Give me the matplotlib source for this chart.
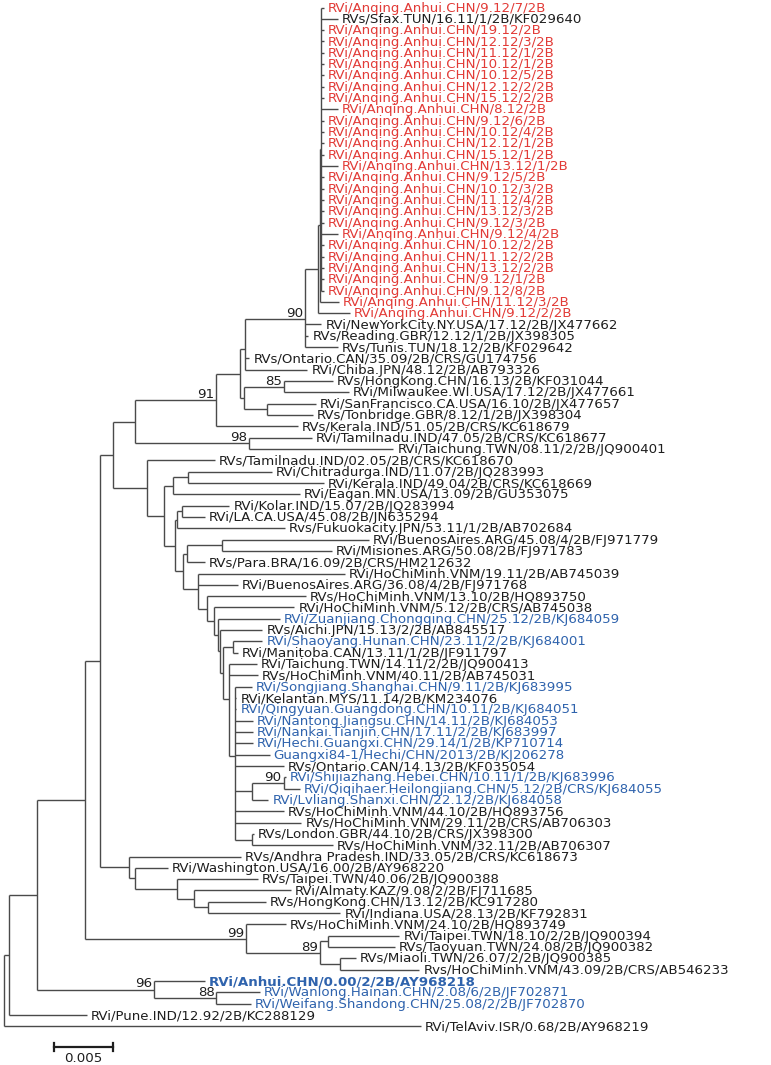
import matplotlib
matplotlib.use("Agg")
import matplotlib.pyplot as plt
from collections import defaultdict

# ---- data: leaves in drawing order (name, parent node, branch length, colour group)
leaves = [
    ("RVi/Anqing.Anhui.CHN/9.12/7/2B", "q2", 0.0002, "r"),
    ("RVs/Sfax.TUN/16.11/1/2B/KF029640", "q2", 0.0014, "k"),
    ("RVi/Anqing.Anhui.CHN/19.12/2B", "q2", 0.0002, "r"),
    ("RVi/Anqing.Anhui.CHN/12.12/3/2B", "q2", 0.0002, "r"),
    ("RVi/Anqing.Anhui.CHN/11.12/1/2B", "q2", 0.0002, "r"),
    ("RVi/Anqing.Anhui.CHN/10.12/1/2B", "q2", 0.0002, "r"),
    ("RVi/Anqing.Anhui.CHN/10.12/5/2B", "q2", 0.0002, "r"),
    ("RVi/Anqing.Anhui.CHN/12.12/2/2B", "q2", 0.0002, "r"),
    ("RVi/Anqing.Anhui.CHN/15.12/2/2B", "q2", 0.0002, "r"),
    ("RVi/Anqing.Anhui.CHN/8.12/2B", "q2", 0.0014, "r"),
    ("RVi/Anqing.Anhui.CHN/9.12/6/2B", "q2", 0.0002, "r"),
    ("RVi/Anqing.Anhui.CHN/10.12/4/2B", "q2", 0.0002, "r"),
    ("RVi/Anqing.Anhui.CHN/12.12/1/2B", "q2", 0.0002, "r"),
    ("RVi/Anqing.Anhui.CHN/15.12/1/2B", "q2", 0.0002, "r"),
    ("RVi/Anqing.Anhui.CHN/13.12/1/2B", "q2", 0.0014, "r"),
    ("RVi/Anqing.Anhui.CHN/9.12/5/2B", "q2", 0.0002, "r"),
    ("RVi/Anqing.Anhui.CHN/10.12/3/2B", "q2", 0.0002, "r"),
    ("RVi/Anqing.Anhui.CHN/11.12/4/2B", "q2", 0.0002, "r"),
    ("RVi/Anqing.Anhui.CHN/13.12/3/2B", "q2", 0.0002, "r"),
    ("RVi/Anqing.Anhui.CHN/9.12/3/2B", "q2", 0.0002, "r"),
    ("RVi/Anqing.Anhui.CHN/9.12/4/2B", "q2", 0.0014, "r"),
    ("RVi/Anqing.Anhui.CHN/10.12/2/2B", "q2", 0.0002, "r"),
    ("RVi/Anqing.Anhui.CHN/11.12/2/2B", "q2", 0.0002, "r"),
    ("RVi/Anqing.Anhui.CHN/13.12/2/2B", "q2", 0.0002, "r"),
    ("RVi/Anqing.Anhui.CHN/9.12/1/2B", "q2", 0.0002, "r"),
    ("RVi/Anqing.Anhui.CHN/9.12/8/2B", "q2", 0.0002, "r"),
    ("RVi/Anqing.Anhui.CHN/11.12/3/2B", "q1", 0.0016, "r"),
    ("RVi/Anqing.Anhui.CHN/9.12/2/2B", "q0", 0.0027, "r"),
    ("RVi/NewYorkCity.NY.USA/17.12/2B/JX477662", "n90", 0.0014, "k"),
    ("RVs/Reading.GBR/12.12/1/2B/JX398305", "n90", 0.0003, "k"),
    ("RVs/Tunis.TUN/18.12/2B/KF029642", "n90", 0.0028, "k"),
    ("RVs/Ontario.CAN/35.09/2B/CRS/GU174756", "y", 0.0004, "k"),
    ("RVi/Chiba.JPN/48.12/2B/AB793326", "y", 0.0053, "k"),
    ("RVs/HongKong.CHN/16.13/2B/KF031044", "n85", 0.0042, "k"),
    ("RVi/Milwaukee.WI.USA/17.12/2B/JX477661", "n85", 0.0055, "k"),
    ("RVi/SanFrancisco.CA.USA/16.10/2B/JX477657", "sft", 0.0041, "k"),
    ("RVs/Tonbridge.GBR/8.12/1/2B/JX398304", "sft", 0.0039, "k"),
    ("RVs/Kerala.IND/51.05/2B/CRS/KC618679", "n91", 0.0069, "k"),
    ("RVi/Tamilnadu.IND/47.05/2B/CRS/KC618677", "n98", 0.0053, "k"),
    ("RVi/Taichung.TWN/08.11/2/2B/JQ900401", "n98", 0.0122, "k"),
    ("RVs/Tamilnadu.IND/02.05/2B/CRS/KC618670", "f", 0.0058, "k"),
    ("RVi/Chitradurga.IND/11.07/2B/JQ283993", "i", 0.0071, "k"),
    ("RVi/Kerala.IND/49.04/2B/CRS/KC618669", "i", 0.0115, "k"),
    ("RVi/Eagan.MN.USA/13.09/2B/GU353075", "h", 0.0108, "k"),
    ("RVi/Kolar.IND/15.07/2B/JQ283994", "kl", 0.0040, "k"),
    ("RVi/LA.CA.USA/45.08/2B/JN635294", "kl", 0.0019, "k"),
    ("Rvs/Fukuokacity.JPN/53.11/1/2B/AB702684", "l", 0.0091, "k"),
    ("RVi/BuenosAires.ARG/45.08/4/2B/FJ971779", "bm", 0.0124, "k"),
    ("RVi/Misiones.ARG/50.08/2B/FJ971783", "bm", 0.0093, "k"),
    ("RVs/Para.BRA/16.09/2B/CRS/HM212632", "n", 0.0015, "k"),
    ("RVi/HoChiMinh.VNM/19.11/2B/AB745039", "o", 0.0125, "k"),
    ("RVi/BuenosAires.ARG/36.08/4/2B/FJ971768", "o", 0.0034, "k"),
    ("RVs/HoChiMinh.VNM/13.10/2B/HQ893750", "r", 0.0084, "k"),
    ("RVi/HoChiMinh.VNM/5.12/2B/CRS/AB745038", "s", 0.0068, "k"),
    ("RVi/Zuanjiang.Chongqing.CHN/25.12/2B/KJ684059", "t", 0.0053, "b"),
    ("RVs/Aichi.JPN/15.13/2/2B/AB845517", "u", 0.0036, "k"),
    ("RVi/Shaoyang.Hunan.CHN/23.11/2/2B/KJ684001", "sm", 0.0025, "b"),
    ("RVi/Manitoba.CAN/13.11/1/2B/JF911797", "sm", 0.0004, "k"),
    ("RVi/Taichung.TWN/14.11/2/2B/JQ900413", "w", 0.0023, "k"),
    ("RVs/HoChiMinh.VNM/40.11/2B/AB745031", "w", 0.0024, "k"),
    ("RVi/Songjiang.Shanghai.CHN/9.11/2B/KJ683995", "p", 0.0014, "b"),
    ("RVi/Kelantan.MYS/11.14/2B/KM234076", "p", 0.0001, "k"),
    ("RVi/Qingyuan.Guangdong.CHN/10.11/2B/KJ684051", "p", 0.0001, "b"),
    ("RVi/Nantong.Jiangsu.CHN/14.11/2B/KJ684053", "p", 0.0015, "b"),
    ("RVi/Nankai.Tianjin.CHN/17.11/2/2B/KJ683997", "p", 0.0015, "b"),
    ("RVi/Hechi.Guangxi.CHN/29.14/1/2B/KP710714", "p", 0.0015, "b"),
    ("Guangxi84-1/Hechi/CHN/2013/2B/KJ206278", "p", 0.0029, "b"),
    ("RVs/Ontario.CAN/14.13/2B/KF035054", "p", 0.0041, "k"),
    ("RVi/Shijiazhang.Hebei.CHN/10.11/1/2B/KJ683996", "n90b", 0.0002, "b"),
    ("RVi/Qiqihaer.Heilongjiang.CHN/5.12/2B/CRS/KJ684055", "n90b", 0.0014, "b"),
    ("RVi/Lvliang.Shanxi.CHN/22.12/2B/KJ684058", "sql", 0.0014, "b"),
    ("RVs/HoChiMinh.VNM/44.10/2B/HQ893756", "p", 0.0041, "k"),
    ("RVs/HoChiMinh.VNM/29.11/2B/CRS/AB706303", "p", 0.0056, "k"),
    ("RVs/London.GBR/44.10/2B/CRS/JX398300", "lh", 0.0002, "k"),
    ("RVs/HoChiMinh.VNM/32.11/2B/AB706307", "lh", 0.0069, "k"),
    ("RVs/Andhra Pradesh.IND/33.05/2B/CRS/KC618673", "aw", 0.0095, "k"),
    ("RVi/Washington.USA/16.00/2B/AY968220", "wt", 0.0028, "k"),
    ("RVs/Taipei.TWN/40.06/2B/JQ900388", "tx", 0.0068, "k"),
    ("RVi/Almaty.KAZ/9.08/2/2B/FJ711685", "ahi", 0.0082, "k"),
    ("RVs/HongKong.CHN/13.12/2B/KC917280", "hi", 0.0049, "k"),
    ("RVi/Indiana.USA/28.13/2B/KF792831", "hi", 0.0112, "k"),
    ("RVs/HoChiMinh.VNM/24.10/2B/HQ893749", "n99", 0.0034, "k"),
    ("RVi/Taipei.TWN/18.10/2/2B/JQ900394", "tt", 0.0060, "k"),
    ("RVs/Taoyuan.TWN/24.08/2B/JQ900382", "tt", 0.0056, "k"),
    ("RVs/Miaoli.TWN/26.07/2/2B/JQ900385", "mh", 0.0013, "k"),
    ("Rvs/HoChiMinh.VNM/43.09/2B/CRS/AB546233", "mh", 0.0067, "k"),
    ("RVi/Anhui.CHN/0.00/2/2B/AY968218", "n96", 0.0043, "B"),
    ("RVi/Wanlong.Hainan.CHN/2.08/6/2B/JF702871", "n88", 0.0037, "b"),
    ("RVi/Weifang.Shandong.CHN/25.08/2/2B/JF702870", "n88", 0.0029, "b"),
    ("RVi/Pune.IND/12.92/2B/KC288129", "a", 0.0066, "k"),
    ("RVi/TelAviv.ISR/0.68/2B/AY968219", "root", 0.0353, "k"),
]

# ---- data: internal nodes (id, parent, branch length, bootstrap)
nodes = [
    ("root", None, 0.0, ""), ("a", "root", 0.0004, ""), ("b", "a", 0.0024, ""),
    ("c2", "b", 0.0041, ""), ("e2", "c2", 0.0012, ""), ("e", "e2", 0.0011, ""),
    ("d", "e", 0.0019, ""), ("n91", "d", 0.0069, "91"), ("x", "n91", 0.0020, ""),
    ("y", "x", 0.0004, ""), ("n90", "y", 0.0051, "90"), ("q0", "n90", 0.0011, ""),
    ("q1", "q0", 0.0002, ""), ("q2", "q1", 0.0001, ""), ("z", "x", 0.0003, ""),
    ("n85", "z", 0.0034, "85"), ("sft", "z", 0.0020, ""), ("n98", "d", 0.0097, "98"),
    ("f", "e", 0.0029, ""), ("g", "f", 0.0015, ""), ("h", "g", 0.0007, ""),
    ("i", "h", 0.0013, ""), ("k", "g", 0.0009, ""), ("l", "k", 0.0002, ""),
    ("kl", "l", 0.0004, ""), ("m", "k", 0.0007, ""), ("n", "m", 0.0003, ""),
    ("bm", "n", 0.0030, ""), ("o", "m", 0.0012, ""), ("r", "o", 0.0008, ""),
    ("s", "r", 0.0006, ""), ("t", "s", 0.0003, ""), ("u", "t", 0.0002, ""),
    ("v", "u", 0.0003, ""), ("sm", "v", 0.0008, ""), ("w", "v", 0.0005, ""),
    ("p", "w", 0.0005, ""), ("sql", "p", 0.0014, ""), ("n90b", "sql", 0.0027, "90"),
    ("lh", "p", 0.0014, ""), ("aw", "e2", 0.0025, ""), ("wt", "aw", 0.0005, ""),
    ("tx", "wt", 0.0036, ""), ("ahi", "tx", 0.0014, ""), ("hi", "ahi", 0.0012, ""),
    ("n99", "c2", 0.0136, "99"), ("n89", "n99", 0.0063, "89"), ("tt", "n89", 0.0007, ""),
    ("mh", "n89", 0.0017, ""), ("n96", "b", 0.0099, "96"), ("n88", "n96", 0.0053, "88"),
]

scale_bar = 0.005

colours = {"r": "#e23b37", "k": "#1e1e1e", "b": "#2f63ad", "B": "#2f63ad"}
line_col = "#4a4a4a"
px = scale_bar / 59.0          # one pixel in substitution units
row_px = 11.32
top_px = 7.5
fsize = 9.6

# ---- layout
parent, blen, support = {}, {}, {}
for nid, par, bl, bs in nodes:
    parent[nid], blen[nid], support[nid] = par, bl, bs
for name, par, bl, grp in leaves:
    parent[name], blen[name] = par, bl

children = defaultdict(list)
for nid, par, _, _ in nodes:
    if par is not None:
        children[par].append(nid)
for name, par, _, _ in leaves:
    children[par].append(name)

xpos = {}
def set_x(nid, x0):
    xpos[nid] = x0
    for c in children[nid]:
        set_x(c, x0 + blen[c])
set_x("root", 0.0)

ypos = {name: i for i, (name, _, _, _) in enumerate(leaves)}
def set_y(nid):
    if nid in ypos:
        return ypos[nid]
    ys = [set_y(c) for c in children[nid]]
    ypos[nid] = sum(ys) / len(ys)
    return ypos[nid]
set_y("root")

# ---- draw
fig = plt.figure(figsize=(7.71, 10.65), dpi=100)
ax = fig.add_axes([0, 0, 1, 1])
ax.set_xlim(-4 * px, (771 - 4) * px)
ax.set_ylim((1065 - top_px) / row_px, -top_px / row_px)
ax.axis("off")

for nid, _, _, _ in nodes:
    kids = children[nid]
    ky = [ypos[c] for c in kids]
    ax.plot([xpos[nid], xpos[nid]], [min(ky), max(ky)], color=line_col, lw=1.0,
            solid_capstyle="butt")
    for c in kids:
        ax.plot([xpos[nid], xpos[c]], [ypos[c], ypos[c]], color=line_col, lw=1.0,
                solid_capstyle="butt")
    if support[nid]:
        ax.text(xpos[nid] - 2 * px, ypos[nid] - 0.18, support[nid], ha="right",
                va="baseline", fontsize=fsize, color="#1e1e1e", family="DejaVu Sans")

for name, _, _, grp in leaves:
    ax.text(xpos[name] + 4 * px, ypos[name] + 0.05, name, ha="left", va="center",
            fontsize=fsize, color=colours[grp], family="DejaVu Sans",
            fontweight="bold" if grp == "B" else "normal")

# scale bar
bar_x0 = 50 * px
bar_y = (1047 - top_px) / row_px
ax.plot([bar_x0, bar_x0 + scale_bar], [bar_y, bar_y], color="#1e1e1e", lw=1.6)
for xb in (bar_x0, bar_x0 + scale_bar):
    ax.plot([xb, xb], [bar_y - 0.35, bar_y + 0.35], color="#1e1e1e", lw=1.6)
ax.text(bar_x0 + scale_bar / 2, bar_y + 0.45, f"{scale_bar}", ha="center", va="top",
        fontsize=fsize, color="#1e1e1e", family="DejaVu Sans")

fig.savefig("out.png", dpi=100)
